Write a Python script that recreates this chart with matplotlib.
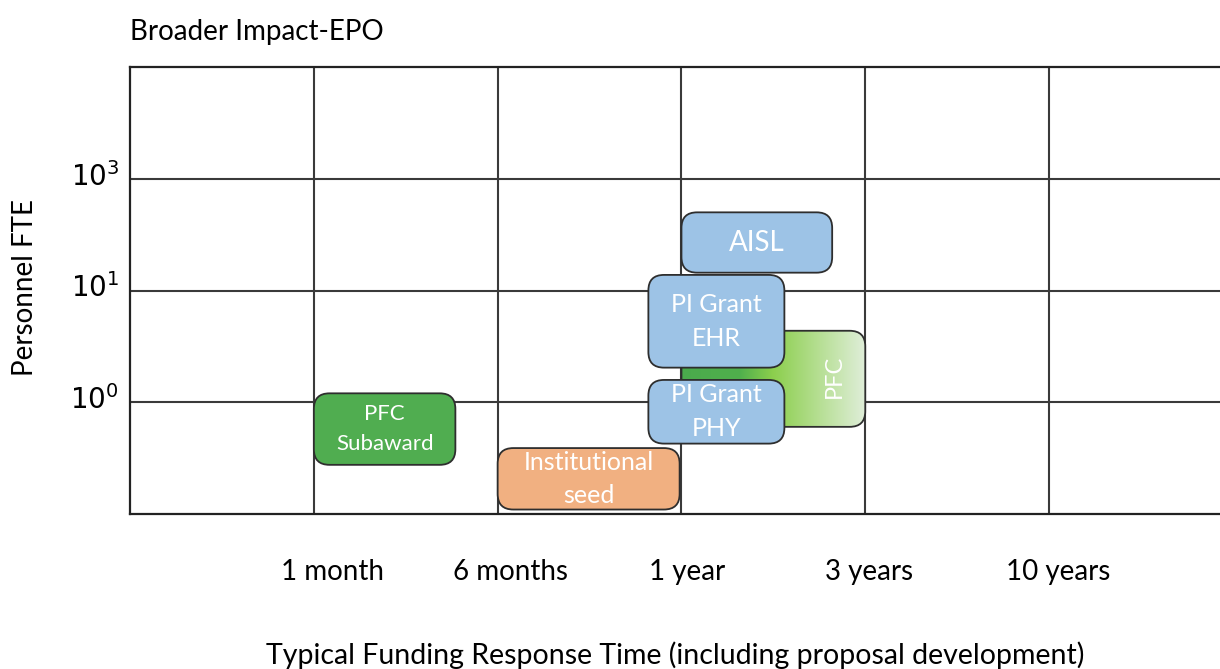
import numpy as np
import matplotlib.pyplot as plt
import matplotlib.transforms as mtransforms
from matplotlib.patches import FancyBboxPatch
from matplotlib.colors import LinearSegmentedColormap

plt.rcParams['font.family'] = ['Lato', 'DejaVu Sans']

# categorical axes: x = response time bins, y = FTE bins
x_labels = ['1 month', '6 months', '1 year', '3 years', '10 years']
x_label_pos = [1.10, 2.07, 3.03, 4.02, 5.05]
y_labels = [r'$10^0$', r'$10^1$', r'$10^3$']
y_label_pos = [1, 2, 3]

# funding boxes (x0, x1, y0, y1) in grid units
names = ['PFC', 'PFC\nSubaward', 'Institutional\nseed', 'AISL', 'PI Grant\nEHR', 'PI Grant\nPHY']
x0 = [3.00, 1.00, 2.00, 3.00, 2.82, 2.82]
x1 = [4.00, 1.77, 2.99, 3.82, 3.56, 3.56]
y0 = [0.78, 0.44, 0.04, 2.16, 1.31, 0.63]
y1 = [1.64, 1.08, 0.59, 2.70, 2.14, 1.20]
colors = ['gradient', '#50ad50', '#f1b081', '#9dc3e6', '#9dc3e6', '#9dc3e6']
font_sizes = [17, 16, 18, 20, 18, 18]
spacing = [1.0, 1.6, 1.55, 1.0, 1.6, 1.6]

fig = plt.figure(figsize=(12.2, 6.69), dpi=100)
ax = fig.add_axes([0.1066, 0.2317, 0.8934, 0.668])
xmax = 5.93
ax.set_xlim(0, xmax)
ax.set_ylim(0, 4)

for v in range(1, 6):
    ax.axvline(v, color='#3a3a3a', lw=1.5, zorder=1)
for v in range(1, 4):
    ax.axhline(v, color='#3a3a3a', lw=1.5, zorder=1)
for s in ['left', 'bottom', 'top']:
    ax.spines[s].set_linewidth(1.6)
    ax.spines[s].set_color('#222222')
ax.spines['right'].set_visible(False)

ax.set_xticks([])
ax.set_yticks(y_label_pos)
ax.set_yticklabels(y_labels, fontsize=20)
ax.tick_params(axis='y', length=0, pad=8)
shift = mtransforms.ScaledTranslation(0, 3 / 100, fig.dpi_scale_trans)
for t in ax.get_yticklabels():
    t.set_verticalalignment('center')
    t.set_transform(t.get_transform() + shift)

for lab, xp in zip(x_labels, x_label_pos):
    ax.text(xp, -0.52, lab, ha='center', va='center', fontsize=20, clip_on=False)

aspect = (1090 / xmax) / (447 / 4)
gmap = LinearSegmentedColormap.from_list(
    'pfc', [(0, '#4aaa4c'), (0.32, '#50b04c'), (0.5, '#8ccf4d'), (1, '#dfeed8')])

for name, a, b, c, d, col, fs, ls in zip(names, x0, x1, y0, y1, colors, font_sizes, spacing):
    box = FancyBboxPatch((a, c), b - a, d - c,
                         boxstyle='round,pad=0,rounding_size=0.085',
                         mutation_aspect=aspect,
                         fc='none' if col == 'gradient' else col,
                         ec='#2e2e2e', lw=1.3, zorder=3)
    ax.add_patch(box)
    if col == 'gradient':
        grad = np.linspace(0, 1, 256).reshape(1, -1)
        im = ax.imshow(grad, cmap=gmap, extent=(a, b, c, d), aspect='auto', zorder=2.9)
        im.set_clip_path(box)
        ax.text(a + 0.83 * (b - a), (c + d) / 2 + 0.02, name, rotation=90, color='white',
                ha='center', va='center', fontsize=fs, zorder=4)
    else:
        ax.text((a + b) / 2, (c + d) / 2, name, color='white', ha='center', va='center',
                fontsize=fs, linespacing=ls, zorder=4)

ax.set_xlim(0, xmax)
ax.set_ylim(0, 4)

fig.text(130 / 1220, 1 - 32 / 669, 'Broader Impact-EPO', fontsize=20, va='center', ha='left')
fig.text(675 / 1220, 1 - 655 / 669, 'Typical Funding Response Time (including proposal development)',
         fontsize=20.5, va='center', ha='center')
fig.text(25 / 1220, 1 - 288 / 669, 'Personnel FTE', fontsize=20, rotation=90, va='center', ha='center')

fig.savefig('out.png', dpi=100)
